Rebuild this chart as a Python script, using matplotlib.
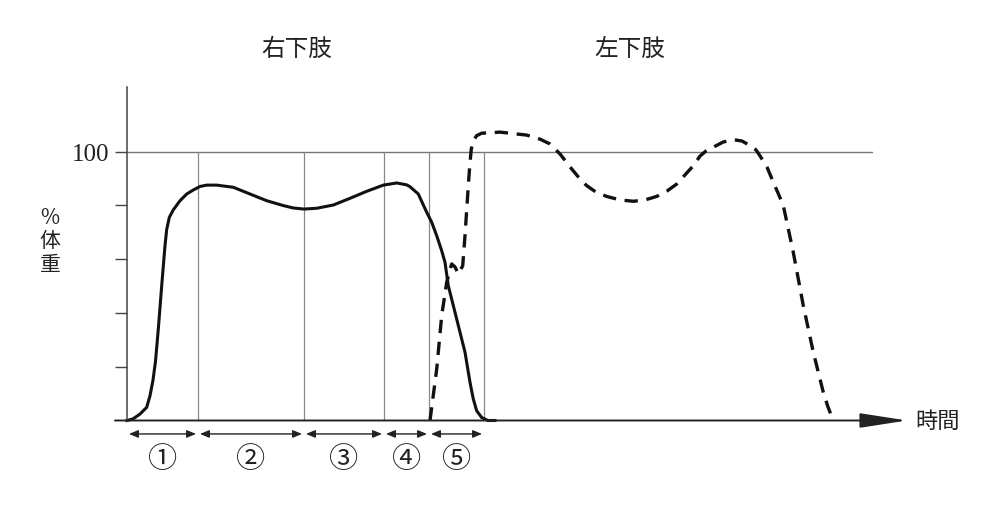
import matplotlib
matplotlib.use('Agg')
from matplotlib import pyplot as plt

plt.rcParams['font.family'] = ['Noto Sans CJK JP', 'DejaVu Sans']

# right limb (solid) - time vs % body weight
right_t = [0, 6, 13, 19.7, 23, 26, 28.5, 31.3, 34.7, 38, 39.7, 42.3, 46.3, 53,
           59.7, 66.3, 73, 79.7, 89.7, 106.3, 123, 139.7, 156.3, 166.3, 177,
           189.7, 206.3, 223, 239.7, 256.3, 269.7, 279.7, 283, 291.3, 299.7,
           304.7, 309.7, 314.7, 318, 321.3, 329.7, 338, 343, 346.3, 349.7,
           354.7, 361, 368]
right_v = [0, 0.6, 2.4, 4.9, 9.2, 15, 22, 34, 50.1, 65, 71, 75.5, 78.3, 81.7,
           84.2, 85.7, 87.0, 87.5, 87.5, 86.7, 84.2, 81.7, 79.9, 79.0, 78.6,
           78.9, 80.1, 82.6, 85.2, 87.5, 88.3, 87.6, 86.9, 84.2, 77.4,
           73.7, 68.7, 63.1, 58.8, 50.1, 37.7, 25.4, 14.2, 8.0, 3.6,
           1.1, 0, 0]

# left limb (dashed)
left_t = [303, 309.7, 314.7, 319.7, 324.7, 328, 331.3, 335.7, 338, 341.3, 343,
          344.3, 346.3, 349.7, 354.7, 373, 399.7, 413, 423, 433, 444.7, 453,
          459.7, 469, 479.7, 493, 506.3, 518, 529.7, 540, 549.7, 558, 566.3,
          573, 579, 586.3, 596, 606.3, 615, 623, 629, 633, 640, 646.3, 651,
          656.3, 666.3, 676.3, 686.3, 696.3, 701, 706.3]
left_v = [0, 19.1, 39.0, 51.4, 58.2, 57.1, 54.5, 57.5, 68.7, 87.3, 96,
          100.9, 104, 105.9, 106.8, 107.2, 106.1, 104.6, 102.8, 99.1, 93.5, 89.8,
          87.3, 84.9, 83.3, 82, 81.5, 82, 83.3, 85.3, 87.9, 91.3, 94.7,
          98.3, 100.2, 101.6, 103.5, 104.4, 103.9, 102.2, 100.6, 98.4, 94.2, 88.6, 84.6,
          79.9, 62.5, 42.7, 25.4, 10.5, 5, 0]

# phase boundaries and labels
phase_edges = [0, 71, 177, 257, 302, 357]
phase_labels = ['①', '②', '③', '④', '⑤']
limb_labels = ['右下肢', '左下肢']
limb_pos = [170, 503]
yticks = [20, 40, 60, 80, 100]

fig = plt.figure(figsize=(10, 5.1), dpi=100)
ax = fig.add_axes([0.127, 88.5 / 510, 0.746, 333.5 / 510])
ax.set_xlim(0, 746)
ax.set_ylim(0, 333.5 / 2.69)

for s in ['top', 'right', 'bottom']:
    ax.spines[s].set_visible(False)
ax.spines['left'].set_color('#444444')
ax.spines['left'].set_linewidth(1.1)

ax.set_xticks([])
ax.set_yticks(yticks)
ax.set_yticklabels(['' if v != 100 else '100' for v in yticks],
                   family='Liberation Serif', fontsize=18, color='#222222')
ax.tick_params(axis='y', direction='out', length=8.6, width=1.0,
               color='#444444', pad=4)

# 100% line and phase lines
ax.axhline(100, color='#777777', lw=1.0)
ax.vlines(phase_edges[1:], 0, 100, color='#888888', lw=0.9)

# time axis with arrow
ax.annotate('', xy=(780, 0), xytext=(-12, 0), annotation_clip=False,
            arrowprops=dict(arrowstyle='-|>,head_length=2.9,head_width=0.45',
                            mutation_scale=10, lw=1.4, color='#222222',
                            shrinkA=0, shrinkB=0))
ax.text(788, 0, '時間', fontsize=16, ha='left', va='center', color='#222222')

# curves
ax.plot(right_t, right_v, color='#111111', lw=2.2, solid_joinstyle='round',
        clip_on=False)
ax.plot(left_t, left_v, color='#111111', lw=2.4, dashes=(4, 2.6),
        clip_on=False)

# phase arrows and labels
for i, lab in enumerate(phase_labels):
    a, b = phase_edges[i], phase_edges[i + 1]
    ax.annotate('', xy=(b - 2, -5), xytext=(a + 2, -5), annotation_clip=False,
                arrowprops=dict(arrowstyle='<|-|>,head_length=0.6,head_width=0.25',
                                mutation_scale=9, lw=1.0, color='#222222',
                                shrinkA=0, shrinkB=0))
    ax.text((a + b) / 2, -14.3, lab, fontsize=21, ha='center', va='center',
            color='#222222', clip_on=False)

for x, lab in zip(limb_pos, limb_labels):
    ax.text(x, 138.3, lab, fontsize=17, ha='center', va='center',
            color='#222222', clip_on=False)

ax.text(-77, 67, '%\n体\n重', fontsize=15, ha='center', va='center',
        linespacing=1.1, color='#222222', clip_on=False)

plt.savefig('out.png', dpi=100)
